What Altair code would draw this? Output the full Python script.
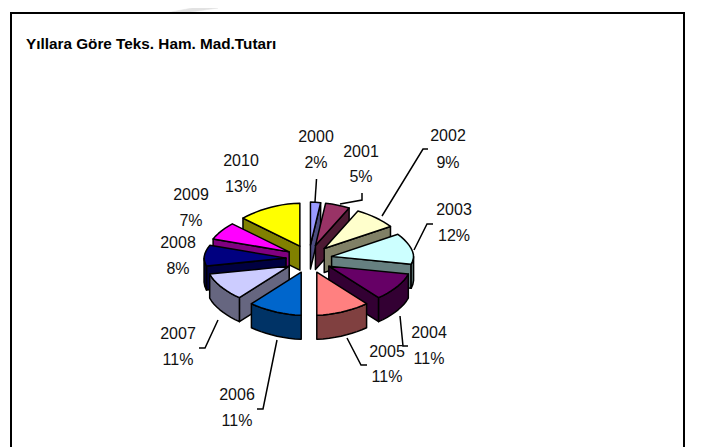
import math
import altair as alt
import pandas as pd

years = ["2000","2001","2002","2003","2004","2005","2006","2007","2008","2009","2010"]
percents = [2,5,9,12,11,11,11,11,8,7,13]
top_colors = ["#9999FF","#993366","#FFFFCC","#CCFFFF","#660066","#FF8080","#0066CC","#CCCCFF","#000080","#FF00FF","#FFFF00"]
side_colors = ["#4C4C80","#4D1A33","#808066","#668080","#330033","#804040","#003366","#666680","#000040","#800080","#808000"]
label_x = [316,361,448,454,429,387,237,178,178,191,241]
label_y1 = [137,152,136,210,333,352,395,334,243,195,161]
label_y2 = [163,177,163,236,359,377,421,360,269,221,187]
leaders = [
    [(316.5,179),(315,202)],
    [(362,193),(362,200),(340,204)],
    [(428,149),(423,149),(382,216)],
    [(433,224),(427,224),(414,250)],
    [(408,346),(403,346),(400,316)],
    [(367,365),(361,365),(347,338)],
    [(257,409),(263,409),(277,340)],
    [(199,348),(205,348),(218,320)],
]
title = "Yıllara Göre Teks. Ham. Mad.Tutarı"

W, H = 690, 439
CX, CY, EX, EY, RX, RY, D, P = 309, 259, 23, 14, 82, 43, 24, 1.75
xs = alt.Scale(domain=[8, 8 + W], range=[0, W])
ys = alt.Scale(domain=[8, 8 + H], range=[0, H])


def poly(points, fill, stroke="black", sw=1.5):
    df = pd.DataFrame({"x": [p[0] for p in points], "y": [p[1] for p in points], "i": range(len(points))})
    return alt.Chart(df).mark_line(fill=fill, stroke=stroke, strokeWidth=sw, interpolate="linear-closed", strokeJoin="round").encode(
        x=alt.X("x:Q", scale=xs, axis=None),
        y=alt.Y("y:Q", scale=ys, axis=None),
        order="i:Q",
    )


def path(points, sw=1.5):
    df = pd.DataFrame({"x": [p[0] for p in points], "y": [p[1] for p in points], "i": range(len(points))})
    return alt.Chart(df).mark_line(color="black", strokeWidth=sw).encode(
        x=alt.X("x:Q", scale=xs, axis=None),
        y=alt.Y("y:Q", scale=ys, axis=None),
        order="i:Q",
    )


slices = []
c = 0
for k, p in enumerate(percents):
    s, e = c * 3.6, (c + p) * 3.6
    c += p
    slices.append((k, s, e, (s + e) / 2))
slices.sort(key=lambda r: -math.cos(math.radians(r[3])))

layers = [
    poly([(166, 13), (192, 8), (218, 8), (184, 13)], "#E2E2E2", stroke="#E2E2E2", sw=0.5),
]
for k, s, e, m in slices:
    ax = CX + EX * math.sin(math.radians(m))
    ay = CY - EY * math.cos(math.radians(m))

    def rim(t, d=0):
        st, ct = math.sin(math.radians(t)), math.cos(math.radians(t))
        f = (abs(st) ** P + abs(ct) ** P) ** (-1 / P)
        return (ax + RX * f * st, ay - RY * f * ct + d)

    # only the radial walls that face the viewer
    if math.sin(math.radians(s)) < -1e-6:
        layers.append(poly([(ax, ay), rim(s), rim(s, D), (ax, ay + D)], side_colors[k]))
    if math.sin(math.radians(e)) > 1e-6:
        layers.append(poly([(ax, ay), rim(e), rim(e, D), (ax, ay + D)], side_colors[k]))
    lo, hi = max(s, 90), min(e, 270)
    if hi > lo:
        n = max(2, int((hi - lo) / 4))
        ts = [lo + (hi - lo) * j / n for j in range(n + 1)]
        layers.append(poly([rim(t) for t in ts] + [rim(t, D) for t in reversed(ts)], side_colors[k]))
    n = max(2, int((e - s) / 4))
    ts = [s + (e - s) * j / n for j in range(n + 1)]
    layers.append(poly([(ax, ay)] + [rim(t) for t in ts], top_colors[k]))

for pts in leaders:
    layers.append(path(pts))

labels = pd.DataFrame({
    "x": label_x * 2,
    "y": label_y1 + label_y2,
    "t": years + [f"{p}%" for p in percents],
})
layers.append(alt.Chart(labels).mark_text(font="Liberation Sans", fontSize=16, color="#111111", align="center", baseline="middle").encode(
    x=alt.X("x:Q", scale=xs, axis=None), y=alt.Y("y:Q", scale=ys, axis=None), text="t:N"))

layers.append(alt.Chart(pd.DataFrame({"x": [26], "y": [44], "t": [title]})).mark_text(
    font="Liberation Sans", fontSize=15.3, fontWeight="bold", color="black", align="left", baseline="middle").encode(
    x=alt.X("x:Q", scale=xs, axis=None), y=alt.Y("y:Q", scale=ys, axis=None), text="t:N"))

# frame
layers.append(path([(11, 447), (11, 13), (684, 13), (684, 447)], sw=2))

chart = alt.layer(*layers).properties(width=W, height=H, padding=0, autosize=alt.AutoSizeParams(type="none")).configure_view(stroke=None)
chart.save("out.html", embed_options={"renderer": "svg", "actions": False})
